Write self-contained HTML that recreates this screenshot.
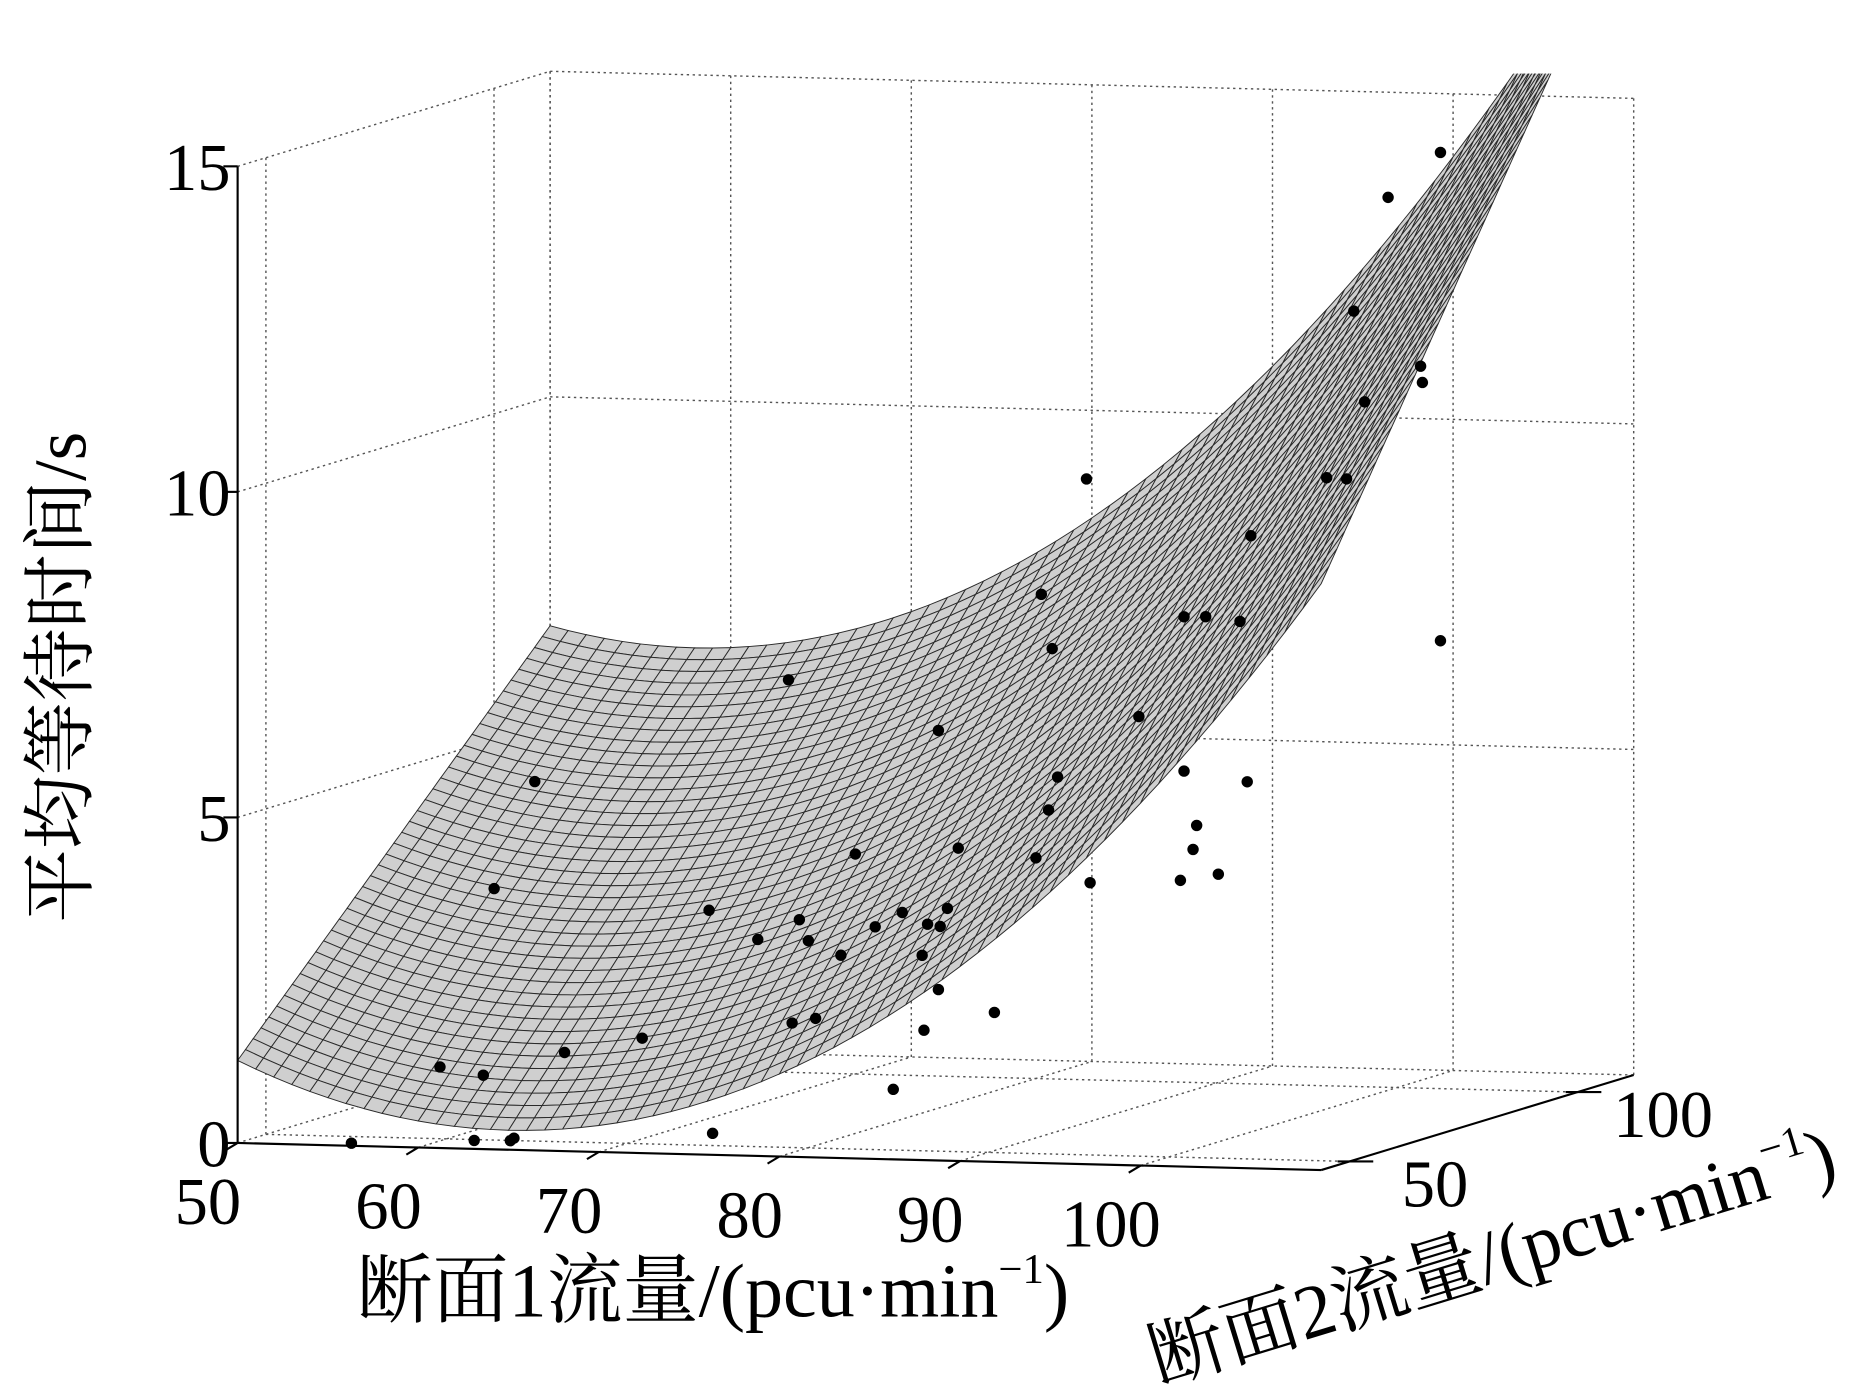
<!DOCTYPE html>
<html><head><meta charset="utf-8"><style>
html,body{margin:0;padding:0;background:#fff;}
svg{display:block;}
text{font-family:"Liberation Serif","Noto Serif CJK SC",serif;fill:#000;}
</style></head><body>
<svg id="chart" width="1863" height="1399" viewBox="0 0 1568 1177.5" preserveAspectRatio="none" xmlns="http://www.w3.org/2000/svg">
<defs><clipPath id="clip"><rect x="0" y="62" width="1568" height="1200"/></clipPath></defs>
<g id="grid"></g>
<g id="surface" clip-path="url(#clip)"></g>
<g id="axes"></g>
<g id="points"></g>
<text transform="translate(72,570) rotate(-90)" text-anchor="middle" font-size="62">平均等待时间/s</text>
<text x="600" y="1108" text-anchor="middle" font-size="64">断面1流量/(pcu·min<tspan font-size="36" dy="-28">−1</tspan><tspan dy="28">)</tspan></text>
<text transform="translate(1262,1078) rotate(-17)" text-anchor="middle" font-size="64">断面2流量/(pcu·min<tspan font-size="36" dy="-28">−1</tspan><tspan dy="28">)</tspan></text>
</svg>
<script>
// axis ranges
const x1Range = [50, 110];
const x2Range = [43.8, 112.3];
const zTicks = [0, 5, 10, 15];
const x1Ticks = [50, 60, 70, 80, 90, 100];
const x2Ticks = [50, 100];
// fitted surface coefficients: front edge (x2 min) and back edge (x2 max): [base, curvature, centre]
const frontCoef = [0.3, 0.0043, 65];
const backCoef = [6.2, 0.00444, 58];
// observed data points
const ptX1 = [56.3,63.1,65.1,65.3,76.3,56.0,58.4,59.0,61.25,62.9,67.2,70.9,73.6,75.3,75.5,76.8,75.9,76.4,78.2,79.0,80.1,81.1,81.6,82.7,82.8,83.0,83.6,83.6,83.7,84.1,84.7,86.7,89.0,89.3,89.7,89.9,90.2,91.8,92.0,94.7,97.0,97.2,97.2,97.7,97.9,98.4,99.1,100.3,100.7,100.9,105.1,106.2,106.6,107.2,108.5,110.3,110.4,111.4,111.4];
const ptX2 = [43.8,43.8,43.8,43.8,43.8,64.4,64.4,64.4,64.4,64.4,64.4,64.4,64.4,64.4,64.4,64.4,64.4,64.4,64.4,64.4,64.4,64.4,64.4,64.4,64.4,64.4,64.4,64.4,64.4,64.4,64.4,64.4,64.4,64.4,64.4,64.4,64.4,64.4,64.4,64.4,64.4,64.4,64.4,64.4,64.4,64.4,64.4,64.4,64.4,64.4,64.4,64.4,64.4,64.4,64.4,64.4,64.4,64.4,64.4];
const ptZ = [0.04,0.13,0.14,0.18,0.33,0.77,0.66,3.53,5.19,1.04,1.29,3.28,2.85,6.85,1.58,1.66,3.17,2.85,2.64,4.2,3.09,0.6,3.32,2.67,1.52,3.15,2.15,6.13,3.12,3.4,4.33,1.82,4.21,8.26,4.95,7.43,5.46,10.05,3.85,6.42,3.92,5.6,7.97,4.4,4.77,7.98,4.03,7.92,5.46,9.24,10.16,10.15,12.73,11.34,14.49,11.91,11.66,7.7,15.2];

const NS='http://www.w3.org/2000/svg';
function P(x1,x2,z){
  const t=(x2-x2Range[0])/(x2Range[1]-x2Range[0]);
  const u=x1-x1Range[0];
  return [200+u*15.2+t*263, 962+u*0.38-t*80-z*54.8];
}
function surfZ(x1,x2){
  const t=(x2-x2Range[0])/(x2Range[1]-x2Range[0]);
  const f=frontCoef[0]+frontCoef[1]*(x1-frontCoef[2])**2;
  const b=backCoef[0]+backCoef[1]*(x1-backCoef[2])**2;
  return (1-t)*f+t*b;
}
function line(g,a,b,dash,w,name){
  const l=document.createElementNS(NS,'line');
  l.setAttribute('x1',a[0]);l.setAttribute('y1',a[1]);l.setAttribute('x2',b[0]);l.setAttribute('y2',b[1]);
  l.setAttribute('stroke',dash?'#555':'#000');l.setAttribute('stroke-width',w);
  if(dash)l.setAttribute('stroke-dasharray','2 3');
  
  
  g.appendChild(l);
}
function txt(g,x,y,s,anchor,name){
  const t=document.createElementNS(NS,'text');
  t.setAttribute('x',x);t.setAttribute('y',y);t.setAttribute('font-size','56');t.setAttribute('text-anchor',anchor);
  t.textContent=s;
  
  
  g.appendChild(t);
}
const grid=document.getElementById('grid');
const [a0,a1]=x1Range,[b0,b1]=x2Range;
const zTop=zTicks[zTicks.length-1];
zTicks.forEach(z=>{
  if(z>0) line(grid,P(a0,b0,z),P(a0,b1,z),true,1.2,'left-wall-gridline');
  line(grid,P(a0,b1,z),P(a1,b1,z),true,1.2,'back-wall-gridline');
});
line(grid,P(a0,b1,0),P(a0,b1,zTop),true,1.2,'back-left-edge');
line(grid,P(a1,b1,0),P(a1,b1,zTop),true,1.2,'back-right-edge');
x1Ticks.forEach(v=>{
  line(grid,P(v,b0,0),P(v,b1,0),true,1.2,'floor-gridline-x1');
  line(grid,P(v,b1,0),P(v,b1,zTop),true,1.2,'back-wall-vertical');
});
x2Ticks.forEach(v=>{
  line(grid,P(a0,v,0),P(a1,v,0),true,1.2,'floor-gridline-x2');
  line(grid,P(a0,v,0),P(a0,v,zTop),true,1.2,'left-wall-vertical');
});
// surface mesh
const surf=document.getElementById('surface');
const NX=60,NY=40;
for(let j=NY-1;j>=0;j--){
  for(let i=0;i<NX;i++){
    const xa=a0+(a1-a0)*i/NX, xb=a0+(a1-a0)*(i+1)/NX;
    const ya=b0+(b1-b0)*j/NY, yb=b0+(b1-b0)*(j+1)/NY;
    const q=[P(xa,ya,surfZ(xa,ya)),P(xb,ya,surfZ(xb,ya)),P(xb,yb,surfZ(xb,yb)),P(xa,yb,surfZ(xa,yb))];
    const p=document.createElementNS(NS,'path');
    p.setAttribute('d','M'+q.map(c=>c[0].toFixed(1)+','+c[1].toFixed(1)).join('L')+'Z');
    p.setAttribute('fill','#cfcfcf');p.setAttribute('stroke','#2a2a2a');p.setAttribute('stroke-width','0.8');
    
    
    surf.appendChild(p);
  }
}
// axes
const ax=document.getElementById('axes');
line(ax,P(a0,b0,0),P(a0,b0,15),false,1.8,'z-axis-line');
line(ax,P(a0,b0,0),P(a1,b0,0),false,1.8,'x1-axis-line');
line(ax,P(a1,b0,0),P(a1,b1,0),false,1.8,'x2-axis-line');
zTicks.forEach(z=>{
  const p=P(a0,b0,z);
  line(ax,[p[0]-12,p[1]],p,false,1.8,'z-tick');
  txt(ax,p[0]-6,p[1]+20,String(z),'end','z-tick-label');
});
x1Ticks.forEach(v=>{
  const p=P(v,b0,0);
  line(ax,p,[p[0]-10,p[1]+6],false,1.8,'x1-tick');
  txt(ax,p[0]-25,p[1]+68,String(v),'middle','x1-tick-label');
});
x2Ticks.forEach(v=>{
  const p=P(a1,v,0);
  line(ax,[p[0]-10,p[1]],[p[0]+20,p[1]],false,1.8,'x2-tick');
  txt(ax,p[0]+72,p[1]+38,String(v),'middle','x2-tick-label');
});
// points
const pts=document.getElementById('points');
for(let k=0;k<ptX1.length;k++){
  const p=P(ptX1[k],ptX2[k],ptZ[k]);
  const c=document.createElementNS(NS,'circle');
  c.setAttribute('cx',p[0]);c.setAttribute('cy',p[1]);c.setAttribute('r','4.8');c.setAttribute('fill','#000');
  
  
  pts.appendChild(c);
}
</script>
</body></html>
